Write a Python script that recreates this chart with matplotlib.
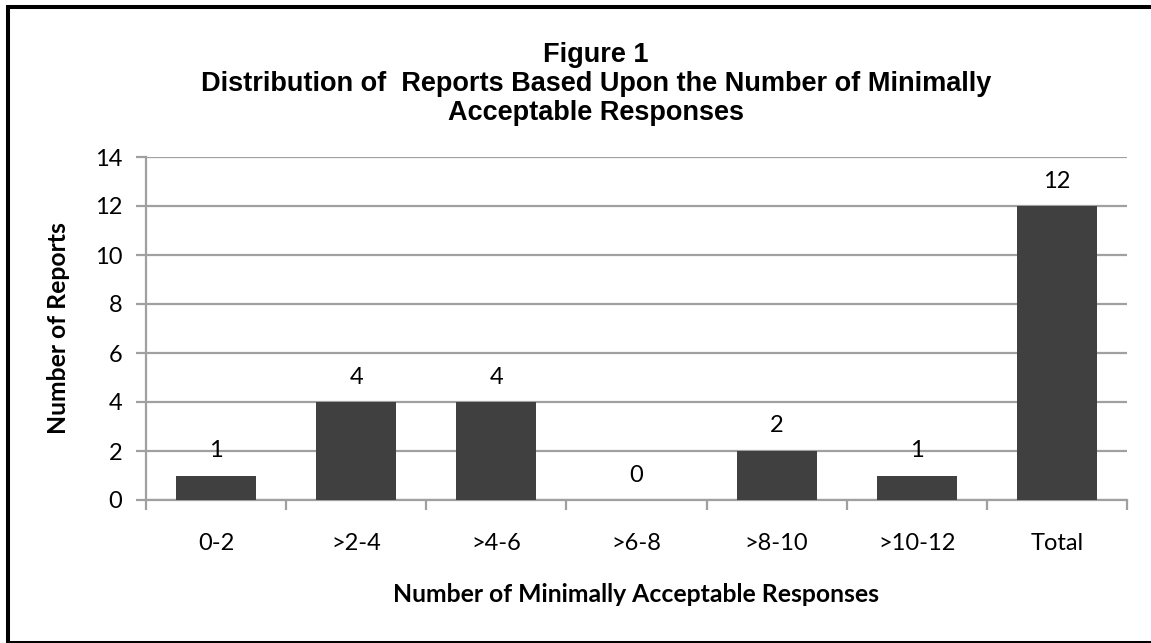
import numpy as np
import matplotlib.pyplot as plt
from matplotlib.patches import Rectangle

# Reports grouped by number of minimally acceptable responses
categories = ['0-2', '>2-4', '>4-6', '>6-8', '>8-10', '>10-12', 'Total']
reports = [1, 4, 4, 0, 2, 1, 12]
y_ticks = [0, 2, 4, 6, 8, 10, 12, 14]

BAR_COLOR = '#404040'
GRID_COLOR = '#a0a0a0'
BODY_FONT = 'Lato'
TITLE_FONT = 'Liberation Sans'
W, H = 1151, 643

fig = plt.figure(figsize=(W / 100, H / 100), dpi=100)
ax = fig.add_axes([146 / W, 1 - 500 / H, (1127 - 146) / W, (500 - 157) / H])

x = np.arange(len(categories))
ax.bar(x, reports, width=0.57, color=BAR_COLOR, zorder=3)

# value labels above each bar
for xi, val in zip(x, reports):
    ax.annotate(str(val), (xi, val), xytext=(0, 25), textcoords='offset pixels',
                ha='center', va='center', fontsize=17, family=BODY_FONT)

ax.set_ylim(0, 14)
ax.set_xlim(-0.5, len(categories) - 0.5)
ax.set_yticks(y_ticks)
ax.set_yticklabels([str(t) for t in y_ticks], fontsize=17, family=BODY_FONT)
ax.yaxis.grid(True, color=GRID_COLOR, linewidth=1.6, zorder=0)
ax.set_axisbelow(True)

# category labels centred, tick marks at category boundaries
ax.set_xticks(x)
ax.set_xticklabels(categories, fontsize=17, family=BODY_FONT)
ax.set_xticks(np.arange(-0.5, len(categories)), minor=True)
ax.tick_params(axis='x', which='major', length=0, pad=24)
ax.tick_params(axis='x', which='minor', length=7, width=1.6, color=GRID_COLOR)
ax.tick_params(axis='y', length=7, width=1.6, color=GRID_COLOR, pad=10)

for side in ['top', 'right']:
    ax.spines[side].set_visible(False)
for side in ['left', 'bottom']:
    ax.spines[side].set_color(GRID_COLOR)
    ax.spines[side].set_linewidth(1.6)

# axis titles
fig.text(59 / W, 1 - 328 / H, 'Number of Reports', rotation=90,
         ha='center', va='center', fontsize=17.8, fontweight='bold', family=BODY_FONT)
fig.text(636 / W, 1 - 595 / H, 'Number of Minimally Acceptable Responses',
         ha='center', va='center', fontsize=17.8, fontweight='bold', family=BODY_FONT)

fig.text(596 / W, 1 - 84 / H,
         'Figure 1\nDistribution of  Reports Based Upon the Number of Minimally\n'
         'Acceptable Responses',
         ha='center', va='center', multialignment='center', linespacing=1.14,
         fontsize=19.5, fontweight='bold', family=TITLE_FONT)

# black frame around the chart, open on the right
fig.patches.append(Rectangle((8 / W, 1 - 642.5 / H), 1.1, (642.5 - 7) / H,
                             transform=fig.transFigure, fill=False,
                             edgecolor='black', linewidth=2.9, clip_on=False))

fig.savefig('out.png', dpi=100)
